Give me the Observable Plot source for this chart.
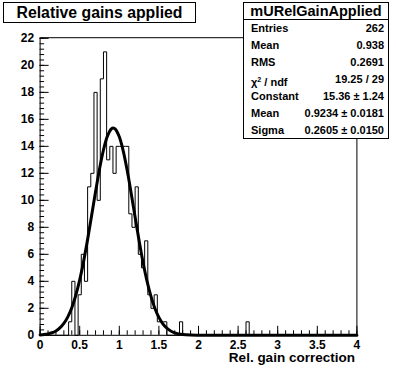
<!DOCTYPE html>
<html><head><meta charset="utf-8">
<script src="https://cdn.jsdelivr.net/npm/d3@7"></script>
<script src="https://cdn.jsdelivr.net/npm/@observablehq/plot@0.6"></script>
<style>
body{margin:0;background:#fff;}
#wrap{position:relative;width:396px;height:372px;font-family:"Liberation Sans",Arial,Helvetica,sans-serif;font-weight:bold;color:#000;}
#chart{position:absolute;left:0;top:0;}
#title{position:absolute;left:3px;top:2px;width:191px;height:19px;border:1px solid #000;background:#fff;font-size:15.8px;text-align:center;line-height:19px;white-space:nowrap;}
#stats{position:absolute;left:243px;top:2px;width:144px;height:135px;border:1px solid #000;background:#fff;}
#stats .head{height:16px;border-bottom:1px solid #000;font-size:14.5px;text-align:center;line-height:16px;white-space:nowrap;}
#stats .row{display:flex;justify-content:space-between;height:17px;line-height:17px;font-size:11px;padding:0 4px 0 7px;white-space:nowrap;}
</style></head>
<body>
<div id="wrap"><div id="chart"></div><div id="title"></div><div id="stats"></div></div>
<script>
// ---- data ----
const binWidth = 0.04;
const counts = [
  0,0,0,0,0,0,0,0,0,1,
  4,0,3,6,4,11,12,18,10,19,
  21,13,14,12,14,14,14,14,9,8,
  11,6,5,7,3,2,3,1,1,1,
  0,0,0,0,1,0,0,0,0,0,
  0,0,0,0,0,0,0,0,0,0,
  0,0,0,0,0,1,0,0,0,0,
  0,0,0,0,0,0,0,0,0,0,
  0,0,0,0,0,0,0,0,0,0,
  0,0,0,0,0,0,0,0,0,0
];
const fitX = [0,0.05,0.1,0.15,0.2,0.25,0.3,0.35,0.4,0.45,0.5,0.55,0.6,0.65,0.7,0.75,0.8,0.85,0.9,0.9234,
  0.95,1.0,1.05,1.1,1.15,1.2,1.25,1.3,1.35,1.4,1.45,1.5,1.55,1.6,1.65,1.7,1.75,1.8,1.9,2.0,2.5,3.0,4.0];
const fitY = [0.029,0.056,0.104,0.187,0.325,0.544,0.876,1.362,2.042,2.948,4.10,5.497,7.107,8.855,10.634,12.31,13.73,14.76,15.30,15.36,
  15.28,14.71,13.65,12.21,10.52,8.74,7.00,5.40,4.02,2.88,1.99,1.326,0.851,0.527,0.314,0.180,0.100,0.053,0.014,0.003,0,0,0];
const xMajor = [0,0.5,1,1.5,2,2.5,3,3.5,4];
const xLabels = ["0","0.5","1","1.5","2","2.5","3","3.5","4"];
const yMajor = [0,2,4,6,8,10,12,14,16,18,20,22];
const yLabels = ["0","2","4","6","8","10","12","14","16","18","20","22"];
const xTitle = "Rel. gain correction";
const histTitle = "Relative gains applied";
const statsName = "mURelGainApplied";
const statsLabels = ["Entries","Mean","RMS","χ<sup style='font-size:7px;vertical-align:4px'>2</sup> / ndf","Constant","Mean","Sigma"];
const statsValues = ["262","0.938","0.2691","19.25 / 29","15.36 ± 1.24","0.9234 ± 0.0181","0.2605 ± 0.0150"];

// ---- layout ----
const W = 396, H = 372, ML = 39.6, MR = 39.6, MT = 37.2, MB = 37.2;
const fw = W - ML - MR, fh = H - MT - MB;
const xMinor = d3.range(0, 40.5).map(k => k / 10);
const yMinor = d3.range(0, 56).map(k => k * 0.4).filter(v => v <= 22.05);

const histPts = counts.map((c, i) => ({x: i * binWidth, y: c}));
histPts.push({x: counts.length * binWidth, y: counts[counts.length - 1]});
const fitPts = fitX.map((x, i) => ({x, y: fitY[i]}));

const font = {fontSize: 12, fontWeight: "bold", fontFamily: "Liberation Sans, Arial, sans-serif"};

const chart = Plot.plot({
  width: W, height: H,
  marginLeft: ML, marginRight: MR, marginTop: MT, marginBottom: MB,
  x: {domain: [0, 4]},
  y: {domain: [0, 22.05]},
  style: {background: "white", color: "black"},
  marks: [
    Plot.line(histPts, {x: "x", y: "y", curve: "step-after", stroke: "black", strokeWidth: 1}),
    Plot.line(fitPts, {x: "x", y: "y", curve: "catmull-rom", stroke: "black", strokeWidth: 3}),
    Plot.tickX(xMajor, {x: d => d, insetTop: fh - 9, stroke: "black"}),
    Plot.tickX(xMinor, {x: d => d, insetTop: fh - 4.5, stroke: "black"}),
    Plot.tickY(yMajor, {y: d => d, insetRight: fw - 9, stroke: "black"}),
    Plot.tickY(yMinor, {y: d => d, insetRight: fw - 4.5, stroke: "black"}),
    Plot.axisX(xMajor, {tickSize: 0, tickPadding: 5, label: null, tickFormat: d => xLabels[xMajor.indexOf(d)], ...font}),
    Plot.axisY(yMajor, {tickSize: 0, tickPadding: 6, label: null, tickFormat: d => yLabels[yMajor.indexOf(d)], ...font}),
    Plot.frame({stroke: "black"}),
    Plot.text([xTitle], {frameAnchor: "bottom-right", text: d => d, dy: 27, dx: -2, textAnchor: "end", fontSize: 13.5, fontWeight: "bold", fontFamily: "Liberation Sans, Arial, sans-serif"})
  ]
});
document.getElementById("chart").appendChild(chart);

document.getElementById("title").textContent = histTitle;
const stats = document.getElementById("stats");
const head = document.createElement("div");
head.className = "head"; head.textContent = statsName; stats.appendChild(head);
statsLabels.forEach((lab, i) => {
  const row = document.createElement("div"); row.className = "row";
  const a = document.createElement("span"); a.innerHTML = lab;
  const b = document.createElement("span"); b.textContent = statsValues[i];
  row.appendChild(a); row.appendChild(b); stats.appendChild(row);
});
</script>
</body></html>
